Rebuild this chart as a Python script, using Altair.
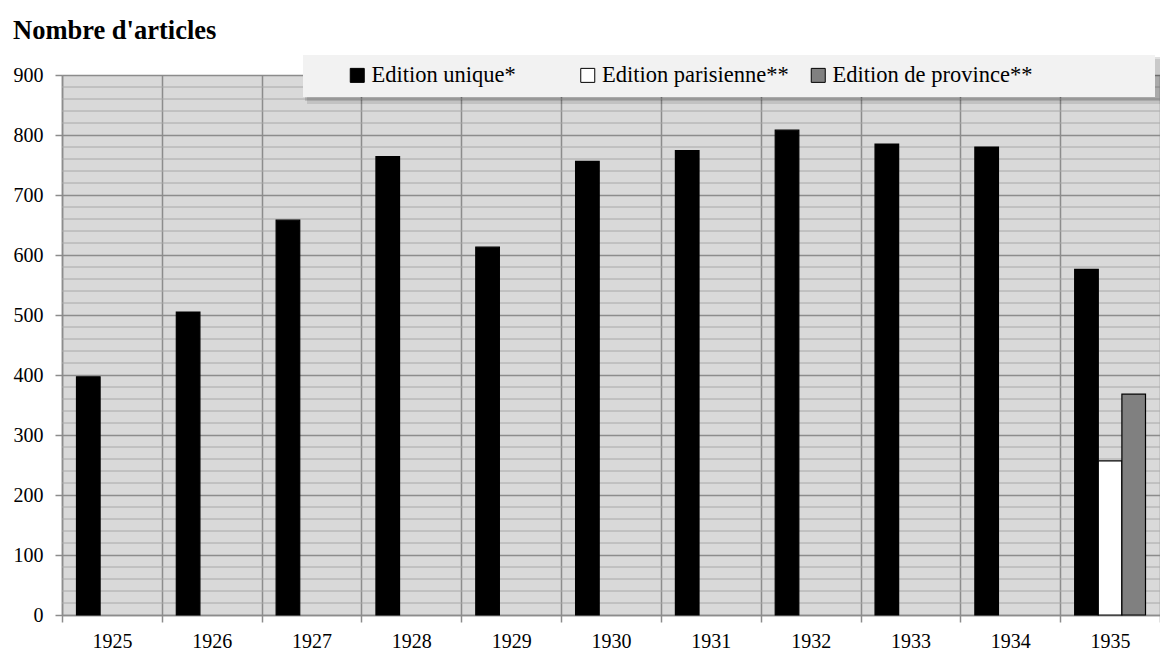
import altair as alt
import pandas as pd

# ---- data ----
years = ["1925", "1926", "1927", "1928", "1929", "1930", "1931", "1932", "1933", "1934", "1935"]
edition_unique = [397, 505, 658, 764, 613, 756, 774, 808, 785, 780, 576]
paris_years = ["1935"]
edition_parisienne = [257]
province_years = ["1935"]
edition_province = [368]
series = ["Edition unique*", "Edition parisienne**", "Edition de province**"]
series_colors = ["#000000", "#ffffff", "#808080"]
y_ticks = [0, 100, 200, 300, 400, 500, 600, 700, 800, 900]
minor_ticks = [v for v in range(20, 900, 20) if v % 100 != 0]
title_text = "Nombre d'articles"

rows = []
for y, v in zip(years, edition_unique):
    rows.append({"year": y, "series": series[0], "value": v})
for y, v in zip(paris_years, edition_parisienne):
    rows.append({"year": y, "series": series[1], "value": v})
for y, v in zip(province_years, edition_province):
    rows.append({"year": y, "series": series[2], "value": v})
df = pd.DataFrame(rows)

W, H = 1098, 540
FONT = "Liberation Serif"
GRID = "#8c8c8c"

y_scale = alt.Scale(domain=[0, 900], nice=False, zero=True)
x_scale = alt.Scale(domain=years, paddingInner=0, paddingOuter=0)

y_axis = alt.Axis(
    title=None,
    values=y_ticks,
    labelFont=FONT,
    labelFontSize=20,
    labelColor="#000000",
    labelPadding=12,
    grid=True,
    gridColor=GRID,
    gridWidth=1.5,
    tickColor=GRID,
    tickWidth=1.5,
    tickSize=7,
    domainColor=GRID,
    domainWidth=1.5,
)

one = pd.DataFrame({"k": [0]})

# minor horizontal grid lines
minor = alt.Chart(pd.DataFrame({"v": minor_ticks})).mark_rule(
    color="#a8a8a8", strokeWidth=1
).encode(y=alt.Y("v:Q", scale=y_scale, axis=y_axis))

# legend shadow + box
shadow1 = alt.Chart(one).mark_rect(color="#000000", opacity=0.10).encode(
    x=alt.value(245), x2=alt.value(1106), y=alt.value(-16), y2=alt.value(29)
)
shadow2 = alt.Chart(one).mark_rect(color="#000000", opacity=0.12).encode(
    x=alt.value(243), x2=alt.value(1099), y=alt.value(-18), y2=alt.value(26)
)
box = alt.Chart(one).mark_rect(color="#f2f2f2").encode(
    x=alt.value(241), x2=alt.value(1093), y=alt.value(-20), y2=alt.value(22)
)

bars = alt.Chart(df).mark_bar(stroke="#000000", strokeWidth=1.2).encode(
    x=alt.X(
        "year:N",
        scale=x_scale,
        sort=years,
        axis=alt.Axis(
            title=None,
            labelAngle=0,
            labelFont=FONT,
            labelFontSize=20,
            labelColor="#000000",
            labelPadding=9,
            tickBand="extent",
            grid=True,
            gridColor=GRID,
            gridWidth=1.5,
            tickColor=GRID,
            tickWidth=1.5,
            tickSize=7,
            domainColor=GRID,
            domainWidth=1.5,
        ),
    ),
    xOffset=alt.XOffset(
        "series:N",
        scale=alt.Scale(domain=series, paddingInner=0, paddingOuter=0.614),
    ),
    y=alt.Y("value:Q", scale=y_scale, axis=y_axis),
    color=alt.Color(
        "series:N",
        scale=alt.Scale(domain=series, range=series_colors),
        legend=alt.Legend(
            title=None,
            orient="none",
            legendX=284,
            legendY=-11,
            direction="horizontal",
            columns=3,
            gridAlign="all",
            symbolType="square",
            symbolSize=196,
            symbolStrokeColor="#000000",
            symbolStrokeWidth=1,
            symbolOpacity=1,
            labelFont=FONT,
            labelFontSize=22.5,
            labelColor="#000000",
            labelOffset=3,
            labelLimit=0,
            columnPadding=4.5,
            padding=0,
        ),
    ),
)

title = alt.Chart(pd.DataFrame({"t": [title_text]})).mark_text(
    font=FONT, fontSize=26.5, fontWeight="bold", align="left", baseline="alphabetic", color="#000000"
).encode(text="t:N", x=alt.value(-49), y=alt.value(-36))

chart = alt.layer(minor, shadow1, shadow2, box, bars, title).properties(
    width=W,
    height=H,
    background="#ffffff",
    autosize=alt.AutoSizeParams(type="none"),
    padding={"left": 54, "top": 67, "right": 0, "bottom": 40},
).configure_view(
    fill="#d9d9d9", stroke=None
).configure_legend(
    labelFont=FONT, labelFontSize=22.5, labelColor="#000000"
).configure_axis(
    labelFont=FONT
)

chart.save("out.html", embed_options={"renderer": "svg", "actions": False})
